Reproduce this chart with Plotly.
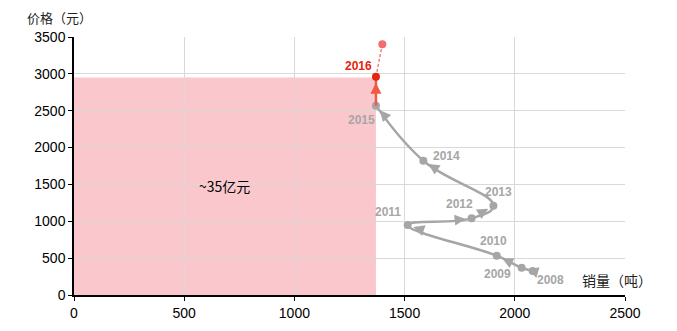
import plotly.graph_objects as go
import math

years = ["2008", "2009", "2010", "2011", "2012", "2013", "2014", "2015"]
volume = [2081, 2031, 1918, 1514, 1804, 1903, 1585, 1370]
price = [326, 370, 533, 950, 1040, 1212, 1822, 2569]

y2016_label = "2016"
vol_2016 = 1370
price_2016 = 2962
vol_2017 = 1399
price_2017 = 3402

rect_volume = 1370
rect_price = 2950
rect_text = "~35亿元"

x_ticks = [0, 500, 1000, 1500, 2000, 2500]
y_ticks = [0, 500, 1000, 1500, 2000, 2500, 3000, 3500]

GRAY = "#a6a6a6"
RED_LINE = "#ee5a45"
RED_DOT = "#e3260f"
RED_LIGHT = "#f36d6d"
PINK = "#fac8cc"

X_MAX, Y_MAX = 2500, 3500
ML, MR, MT, MB = 66, 52, 29, 36
W, H = 669, 323
PW, PH = W - ML - MR, H - MT - MB

fig = go.Figure()

fig.add_shape(type="rect", x0=0, x1=rect_volume, y0=0, y1=rect_price,
              fillcolor=PINK, line_width=0, layer="below")

fig.add_trace(go.Scatter(x=volume, y=price, mode="lines+markers",
                         line=dict(color=GRAY, width=2.5, shape="spline", smoothing=1.2),
                         marker=dict(color=GRAY, size=8), hoverinfo="skip"))
fig.add_trace(go.Scatter(x=[volume[-1], vol_2016], y=[price[-1], price_2016], mode="lines",
                         line=dict(color=RED_LINE, width=2.5), hoverinfo="skip"))
fig.add_trace(go.Scatter(x=[vol_2016, vol_2017], y=[price_2016, price_2017], mode="lines",
                         line=dict(color=RED_LIGHT, width=1.3, dash="3px,2px"), hoverinfo="skip"))
fig.add_trace(go.Scatter(x=[vol_2017], y=[price_2017], mode="markers",
                         marker=dict(color=RED_LIGHT, size=8), hoverinfo="skip"))
fig.add_trace(go.Scatter(x=[vol_2016], y=[price_2016], mode="markers",
                         marker=dict(color=RED_DOT, size=8), hoverinfo="skip"))

sx, sy = PW / X_MAX, PH / Y_MAX


def arrow(x0, y0, x1, y1, color, L=13):
    dx = (x1 - x0) * sx
    dy = -(y1 - y0) * sy
    n = math.hypot(dx, dy)
    ux, uy = dx / n, dy / n
    fig.add_annotation(x=x1, y=y1, ax=-ux * L, ay=-uy * L, text="", showarrow=True,
                       arrowhead=2, arrowsize=1.0, arrowwidth=2.2, arrowcolor=color,
                       standoff=6)


for i in range(1, len(volume)):
    arrow(volume[i - 1], price[i - 1], volume[i], price[i], GRAY)
arrow(volume[-1], price[-1], vol_2016, price_2016, RED_LINE)

label_offsets = [(18, -9), (-24, -6), (-3, 15), (-20, 13), (-12, 14), (5, 14), (23, 5), (-14, -14)]
for yr, xv, yv, (dx, dy) in zip(years, volume, price, label_offsets):
    fig.add_annotation(x=xv, y=yv, text=yr, showarrow=False, xshift=dx, yshift=dy,
                       font=dict(family="Arial", size=12, color=GRAY, weight="bold"))
fig.add_annotation(x=vol_2016, y=price_2016, text=y2016_label, showarrow=False,
                   xshift=-17, yshift=11,
                   font=dict(family="Arial", size=12, color=RED_DOT, weight="bold"))

fig.add_annotation(x=rect_volume * 0.5, y=rect_price * 0.5, text=rect_text, showarrow=False,
                   font=dict(family="Noto Sans CJK SC", size=14, color="black"))

fig.add_annotation(xref="paper", yref="paper", x=-0.089, y=1.0, yshift=20, xanchor="left",
                   yanchor="middle", text="价格（元）", showarrow=False,
                   font=dict(family="Noto Sans CJK SC", size=13, color="#222"))
fig.add_annotation(xref="paper", yref="paper", x=0.985, y=0, yshift=15, xanchor="center",
                   yanchor="middle", text="销量（吨）", showarrow=False,
                   font=dict(family="Noto Sans CJK SC", size=14, color="#222"))

fig.update_layout(
    width=W, height=H, margin=dict(l=ML, r=MR, t=MT, b=MB, autoexpand=False),
    plot_bgcolor="white", paper_bgcolor="white", showlegend=False,
    font=dict(family="Arial", size=14, color="black"),
    xaxis=dict(range=[0, X_MAX], tickvals=x_ticks, showgrid=True, gridcolor="#d9d9d9",
               gridwidth=1, zeroline=False, showline=True, linecolor="black", linewidth=1.5,
               ticks="outside", ticklen=4, tickcolor="black", fixedrange=True),
    yaxis=dict(range=[0, Y_MAX], tickvals=y_ticks, showgrid=True, gridcolor="#d9d9d9",
               gridwidth=1, zeroline=False, showline=True, linecolor="black", linewidth=1.5,
               ticks="outside", ticklen=4, tickcolor="black", fixedrange=True),
)

fig.write_html("out.html")
